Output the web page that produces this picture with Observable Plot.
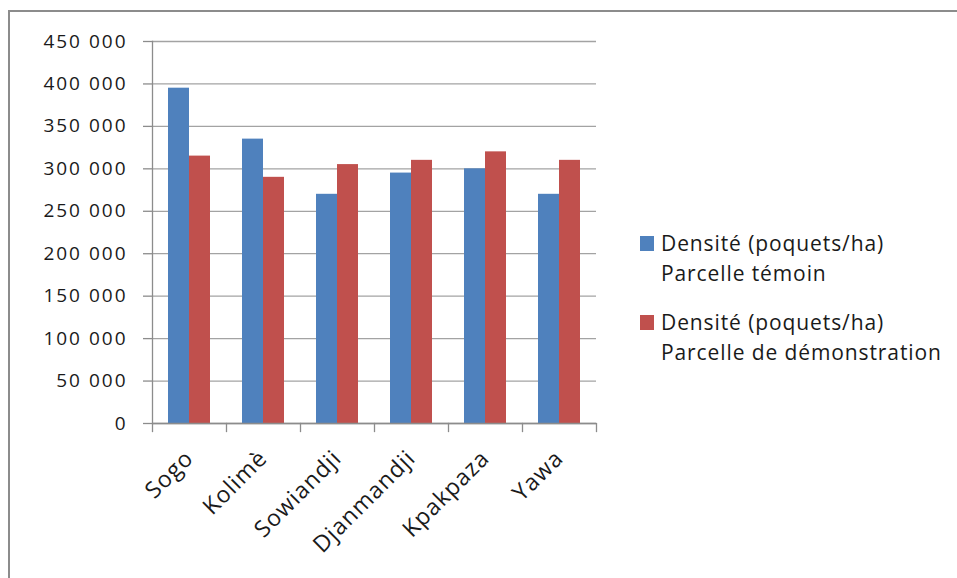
<!DOCTYPE html>
<html>
<head>
<meta charset="utf-8">
<script src="https://cdn.jsdelivr.net/npm/d3@7"></script>
<script src="https://cdn.jsdelivr.net/npm/@observablehq/plot@0.6"></script>
<style>
  body { margin: 0; background: #fff; }
  #wrap { position: relative; width: 957px; height: 578px; overflow: hidden; font-family: "Open Sans", sans-serif; }
  #border { position: absolute; left: 8px; top: 10px; width: 960px; height: 580px; border-top: 2px solid #8c8c8c; border-left: 2px solid #8c8c8c; }
  #chart { position: absolute; left: 0; top: 0; }
  #chart [aria-label="y-axis tick label"], #chart [aria-label="y-axis tick label"] text { font-size: 19px; letter-spacing: 2px; }
  #chart [aria-label="fx-axis tick label"], #chart [aria-label="fx-axis tick label"] text { font-size: 23px; letter-spacing: 1px; }
  .entry { position: absolute; left: 640px; }
  .swatch { position: absolute; left: 0; width: 14px; height: 15px; }
  .label { position: absolute; left: 21px; white-space: nowrap; font-size: 21px; line-height: 30.7px; letter-spacing: 0.9px; color: #1a1a1a; }
</style>
</head>
<body>
<div id="wrap">
  <div id="border"></div>
  <div id="chart"></div>
  <div id="legend"></div>
</div>
<script>
// Villages (categories)
const villages = ["Sogo", "Kolimè", "Sowiandji", "Djanmandji", "Kpakpaza", "Yawa"];
// Series keys, legend lines and colours
const seriesKeys = ["temoin", "demonstration"];
const seriesLabels = [
  ["Densité (poquets/ha)", "Parcelle témoin"],
  ["Densité (poquets/ha)", "Parcelle de démonstration"]
];
const seriesColors = ["#4F81BD", "#C0504D"];
// Density values (pockets per hectare)
const temoin = [395000, 335000, 270000, 295000, 300000, 270000];
const demonstration = [315000, 290000, 305000, 310000, 320000, 310000];
// Y axis ticks
const yTicks = [0, 50000, 100000, 150000, 200000, 250000, 300000, 350000, 400000, 450000];

const rows = villages.flatMap((v, i) => [
  {village: v, series: seriesKeys[0], value: temoin[i]},
  {village: v, series: seriesKeys[1], value: demonstration[i]}
]);

const W = 957, H = 578;
const mTop = 41, mBottom = 155, mLeft = 151, mRight = 360;
const innerH = H - mTop - mBottom;
const axisGray = "#8c8c8c";
const gridGray = "#a3a3a3";
const fmt = d => d3.format(",")(d).replace(/,/g, " ");

const chart = Plot.plot({
  width: W,
  height: H,
  marginTop: mTop,
  marginBottom: mBottom,
  marginLeft: mLeft,
  marginRight: mRight,
  style: {fontFamily: "'Open Sans', sans-serif", background: "transparent", overflow: "visible"},
  fx: {domain: villages, padding: 0, axis: null},
  x: {domain: seriesKeys, paddingInner: 0, paddingOuter: 0.73, axis: null},
  y: {domain: [0, 450000], axis: null},
  color: {domain: seriesKeys, range: seriesColors},
  marks: [
    Plot.gridY(yTicks, {stroke: gridGray, strokeOpacity: 1, strokeWidth: 1.3}),
    Plot.barY(rows, {fx: "village", x: "series", y: "value", fill: "series"}),
    Plot.ruleY([0], {stroke: axisGray, strokeWidth: 1.3}),
    // y axis line (first facet only)
    Plot.frame({anchor: "left", facetAnchor: "left", stroke: axisGray, strokeWidth: 1.3}),
    // category boundary ticks below the x axis
    Plot.frame({anchor: "left", insetTop: innerH, insetBottom: -8, stroke: axisGray, strokeWidth: 1.3}),
    Plot.frame({anchor: "right", facetAnchor: "right", insetTop: innerH, insetBottom: -8, stroke: axisGray, strokeWidth: 1.3}),
    Plot.axisY(yTicks, {
      anchor: "left", tickSize: 9, tickPadding: 16, tickFormat: fmt,
      stroke: axisGray, strokeWidth: 1.3, fill: "#1a1a1a", fontSize: 19, label: null
    }),
    Plot.axisFx({
      anchor: "bottom", tickSize: 0, tickPadding: 0, tickRotate: -45, textAnchor: "end",
      fontSize: 23, fill: "#1a1a1a", label: null, dx: 0, dy: 31
    })
  ]
});
document.getElementById("chart").appendChild(chart);

// Legend
const legend = document.getElementById("legend");
const entryTops = [227.5, 306.5];
seriesKeys.forEach((k, i) => {
  const e = document.createElement("div");
  e.className = "entry";
  e.style.top = entryTops[i] + "px";
  const sw = document.createElement("div");
  sw.className = "swatch";
  sw.style.top = "8.5px";
  sw.style.background = seriesColors[i];
  const lab = document.createElement("div");
  lab.className = "label";
  lab.style.top = "0px";
  lab.innerHTML = seriesLabels[i].join("<br>");
  e.appendChild(sw);
  e.appendChild(lab);
  legend.appendChild(e);
});
</script>
</body>
</html>
